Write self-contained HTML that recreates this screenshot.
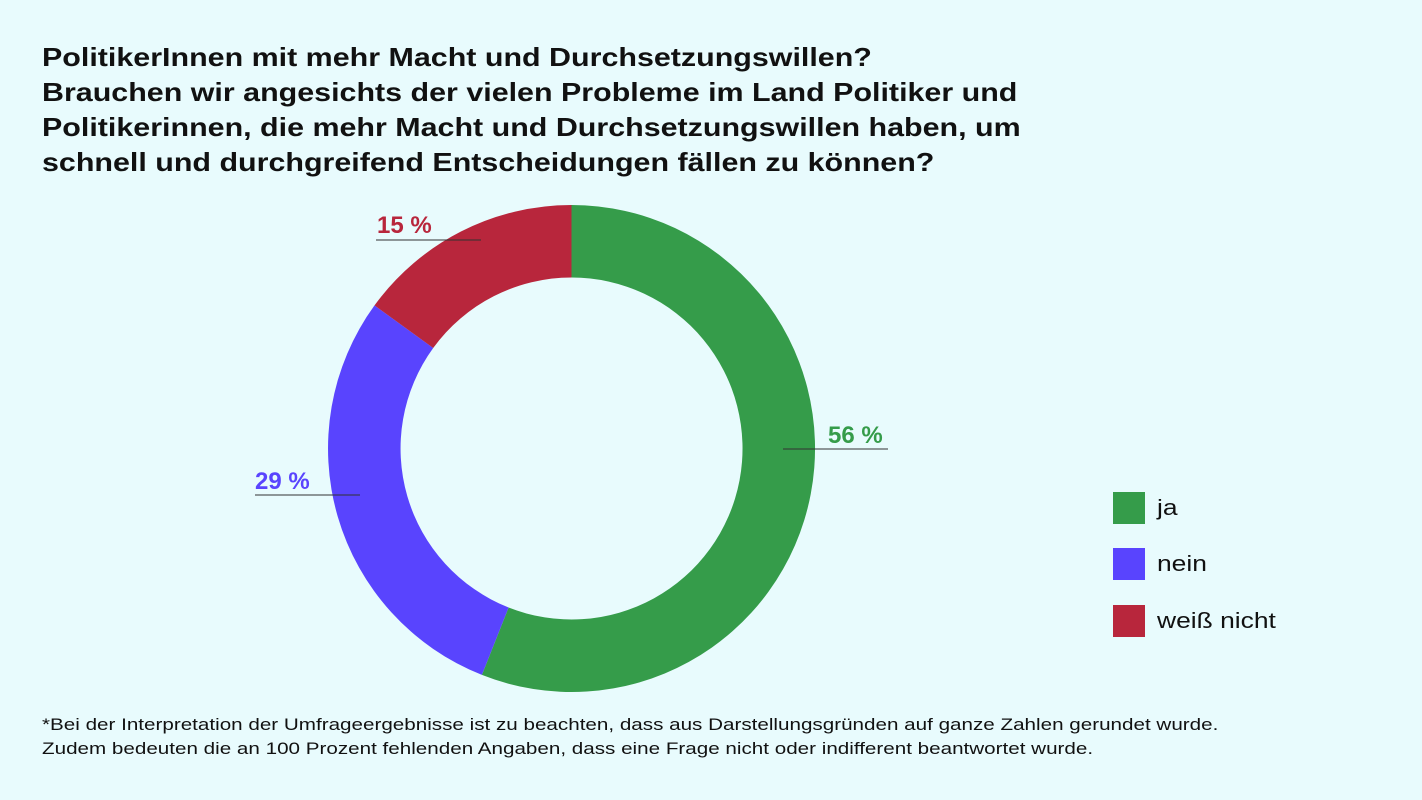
<!DOCTYPE html>
<html><head><meta charset="utf-8"><style>
body{margin:0;width:1422px;height:800px;background:#e8fbfd;font-family:"Liberation Sans",sans-serif;overflow:hidden;position:relative}
.t{position:absolute;left:42px;top:40px;font-weight:bold;font-size:26px;line-height:35px;color:#111;transform:scaleX(1.17);transform-origin:0 0;white-space:nowrap}
.f{position:absolute;left:42px;top:713px;font-size:16.5px;line-height:24px;color:#111;transform:scaleX(1.25);transform-origin:0 0;white-space:nowrap}
.lg{position:absolute;left:1113px;font-size:22px;color:#111;white-space:nowrap}
.lg span{display:inline-block;width:32px;height:32px;vertical-align:middle;margin-right:12px}
.lg b{font-weight:normal;display:inline-block;transform:scaleX(1.2);transform-origin:0 50%;vertical-align:middle}
</style></head><body>
<div class="t">PolitikerInnen mit mehr Macht und Durchsetzungswillen?<br>Brauchen wir angesichts der vielen Probleme im Land Politiker und<br>Politikerinnen, die mehr Macht und Durchsetzungswillen haben, um<br>schnell und durchgreifend Entscheidungen fällen zu können?</div>
<svg width="1422" height="800" style="position:absolute;left:0;top:0">
<path d="M571.5,205 A243.5,243.5 0 1 1 481.9,674.9 L508.6,607.5 A171,171 0 1 0 571.5,277.5 Z" fill="#359c4a"/>
<path d="M481.9,674.9 A243.5,243.5 0 0 1 374.5,305.4 L433.2,348 A171,171 0 0 0 508.6,607.5 Z" fill="#5944fe"/>
<path d="M374.5,305.4 A243.5,243.5 0 0 1 571.5,205 L571.5,277.5 A171,171 0 0 0 433.2,348 Z" fill="#b8263c"/>
<g stroke="#333" stroke-width="1.2" opacity="0.8">
<line x1="783" y1="449" x2="888" y2="449"/><line x1="255" y1="495" x2="360" y2="495"/><line x1="376" y1="240" x2="481" y2="240"/></g>
<g font-family="Liberation Sans" font-weight="bold" font-size="24">
<text x="828" y="443" fill="#359c4a">56 %</text>
<text x="255" y="489" fill="#5944fe">29 %</text>
<text x="377" y="233" fill="#b8263c">15 %</text></g>
</svg>
<div class="lg" style="top:492px"><span style="background:#359c4a"></span><b>ja</b></div>
<div class="lg" style="top:548px"><span style="background:#5944fe"></span><b>nein</b></div>
<div class="lg" style="top:605px"><span style="background:#b8263c"></span><b>weiß nicht</b></div>
<div class="f">*Bei der Interpretation der Umfrageergebnisse ist zu beachten, dass aus Darstellungsgründen auf ganze Zahlen gerundet wurde.<br>Zudem bedeuten die an 100 Prozent fehlenden Angaben, dass eine Frage nicht oder indifferent beantwortet wurde.</div>
</body></html>
